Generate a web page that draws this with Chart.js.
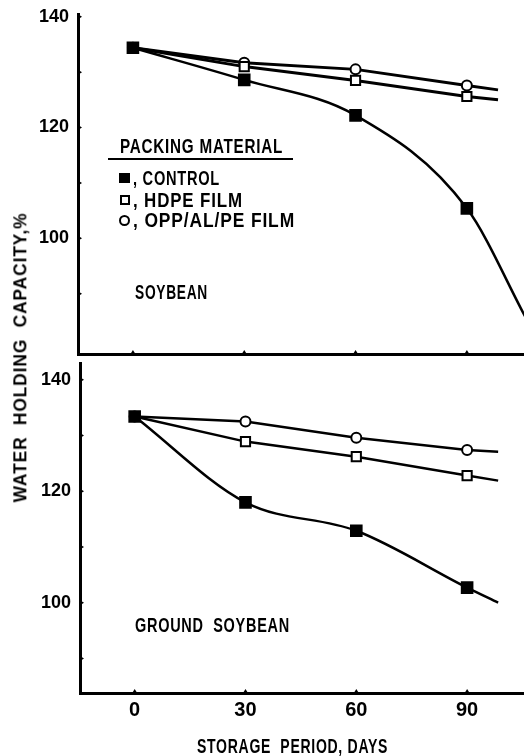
<!DOCTYPE html>
<html>
<head>
<meta charset="utf-8">
<script src="https://cdn.jsdelivr.net/npm/chart.js@4"></script>
<style>
  html, body { margin:0; padding:0; background:#fff; }
  body { width:524px; height:756px; position:relative; overflow:hidden;
         font-family:"Liberation Sans", Arial, sans-serif; font-weight:bold; color:#000; }
  canvas { position:absolute; left:0; }
  .t { position:absolute; white-space:pre; line-height:1; font-weight:bold; font-size:20px; letter-spacing:1px; transform-origin:0 0; }
  .sym { position:absolute; box-sizing:border-box; }
</style>
</head>
<body>
<canvas id="top" width="524" height="360" style="top:0"></canvas>
<canvas id="bot" width="524" height="400" style="top:356px"></canvas>

<div class="t fit" data-w="163" style="left:120px; top:136px;">PACKING MATERIAL</div>
<div style="position:absolute; left:108px; top:158px; width:185px; height:2px; background:#000;"></div>
<div class="sym" style="left:119px; top:173px; width:11px; height:10px; background:#000;"></div>
<div class="t fit" data-w="87" style="left:133px; top:168px;">, CONTROL</div>
<div class="sym" style="left:120px; top:195px; width:10px; height:10px; border:2px solid #000;"></div>
<div class="t fit" data-w="110" style="left:133px; top:190px;">, HDPE FILM</div>
<div class="sym" style="left:119px; top:215px; width:11px; height:11px; border:2px solid #000; border-radius:50%;"></div>
<div class="t fit" data-w="162" style="left:133px; top:210px;">, OPP/AL/PE FILM</div>
<div class="t fit" data-w="73" style="left:135px; top:282px;">SOYBEAN</div>
<div class="t fit" data-w="155" style="left:135px; top:615px;">GROUND  SOYBEAN</div>
<div class="t fit" data-w="191" style="left:197px; top:736px;">STORAGE  PERIOD, DAYS</div>
<div class="t" id="ytitle" data-w="290" style="left:0; top:0; font-size:19px;">WATER  HOLDING  CAPACITY,%</div>

<script>
// ---- data ----
const days = [0, 30, 60, 90];
const xTicks = [0, 30, 60, 90];
const xTickLabels = ["0", "30", "60", "90"];
const yTicksTop = [140, 130, 120, 110, 100, 90];
const yTicksBot = [140, 130, 120, 110, 100, 90];
const yLabels = [140, 120, 100];

// Soybean (top panel)
const soyControl = [134.4, 128.6, 122.2, 105.4];
const soyHDPE    = [134.4, 131.0, 128.5, 125.6];
const soyOPP     = [134.4, 131.7, 130.5, 127.6];
// line continuations past the last sample (day, value)
const soyControlEnd = [[106, 85.5]];
const soyHDPEEnd    = [[98.4, 125.0]];
const soyOPPEnd     = [[98.4, 126.8]];

// Ground soybean (bottom panel)
const gsControl = [133.4, 118.0, 112.9, 102.7];
const gsHDPE    = [133.4, 128.9, 126.2, 122.8];
const gsOPP     = [133.4, 132.5, 129.6, 127.4];
const gsControlEnd = [[98.4, 100.0]];
const gsHDPEEnd    = [[98.4, 121.9]];
const gsOPPEnd     = [[98.4, 127.1]];

const FONT = '"Liberation Sans", Arial, sans-serif';

// squeeze text to the reference widths (condensed look)
document.querySelectorAll('.fit').forEach(el => {
  const s = (+el.dataset.w) / el.scrollWidth;
  el.style.transform = 'scaleX(' + s + ')';
});
(function () {
  const el = document.getElementById('ytitle');
  const w = el.scrollWidth, h = el.offsetHeight, s = (+el.dataset.w) / w;
  const cx = 20, cy = 357;
  el.style.transformOrigin = '50% 50%';
  el.style.left = (cx - w / 2) + 'px';
  el.style.top = (cy - h / 2) + 'px';
  el.style.transform = 'rotate(-90deg) scaleX(' + s + ')';
})();

function series(vals, ends) {
  const pts = days.map((d, i) => ({x: d, y: vals[i]}));
  ends.forEach(e => pts.push({x: e[0], y: e[1]}));
  return pts;
}
function radii(n, extra, r) {
  return Array(n).fill(r).concat(Array(extra).fill(0));
}

function ds(label, vals, ends, style, r, fill, lw, smooth) {
  return {
    label, data: series(vals, ends),
    borderColor: '#000', borderWidth: lw,
    pointStyle: style, pointRadius: radii(vals.length, ends.length, r),
    pointHoverRadius: 0,
    pointBackgroundColor: fill, pointBorderColor: '#000', pointBorderWidth: 2,
    tension: smooth ? 0.4 : 0,
    cubicInterpolationMode: smooth ? 'monotone' : 'default',
    fill: false
  };
}

// inward tick marks drawn from the library's scales
const innerTicks = {
  id: 'innerTicks',
  afterDraw(chart) {
    const ctx = chart.ctx, a = chart.chartArea;
    ctx.save();
    ctx.fillStyle = '#000';
    chart.scales.y.ticks.forEach(t => {
      const p = chart.scales.y.getPixelForValue(t.value);
      ctx.beginPath(); ctx.moveTo(a.left, p - 2.5); ctx.lineTo(a.left + 4, p); ctx.lineTo(a.left, p + 2.5); ctx.fill();
    });
    chart.scales.x.ticks.forEach(t => {
      const p = chart.scales.x.getPixelForValue(t.value);
      ctx.beginPath(); ctx.moveTo(p - 2.5, a.bottom); ctx.lineTo(p, a.bottom - 4); ctx.lineTo(p + 2.5, a.bottom); ctx.fill();
    });
    ctx.restore();
  }
};

function make(id, cfg) {
  return new Chart(document.getElementById(id), {
    type: 'line',
    data: { datasets: cfg.datasets },
    options: {
      responsive: false, animation: false, devicePixelRatio: 1,
      events: [],
      layout: { autoPadding: false, padding: { top: cfg.padTop, left: 0, right: 0, bottom: 0 } },
      plugins: { legend: { display: false }, tooltip: { enabled: false } },
      scales: {
        x: {
          type: 'linear', min: -14.8, max: 105.4,
          afterBuildTicks: s => { s.ticks = xTicks.map(v => ({value: v})); },
          afterFit: s => { s.height = cfg.xH; s.paddingLeft = 0; s.paddingRight = 0; },
          border: { display: true, color: '#000', width: 3 },
          grid: { display: false },
          ticks: {
            display: cfg.xLabels, padding: cfg.xPad, color: '#000',
            font: { family: FONT, size: 20, weight: 'bold' },
            callback: (v) => { const i = xTicks.indexOf(v); return i >= 0 ? xTickLabels[i] : ''; }
          }
        },
        y: {
          type: 'linear', min: cfg.yMin, max: cfg.yMax,
          afterBuildTicks: s => { s.ticks = cfg.yTicks.map(v => ({value: v})); },
          afterFit: s => { s.width = cfg.yW; s.paddingTop = 0; s.paddingBottom = 0; },
          border: { display: true, color: '#000', width: 3 },
          grid: { display: false },
          ticks: {
            padding: 1, color: '#000',
            font: { family: FONT, size: 18, weight: 'bold' },
            callback: v => yLabels.includes(v) ? String(v) : ''
          }
        }
      }
    },
    plugins: [innerTicks]
  });
}

make('top', {
  padTop: 14, xH: 6, yW: 78, yMin: 79.1, yMax: 140.5, yTicks: yTicksTop, xLabels: false, xPad: 0,
  datasets: [
    ds('CONTROL', soyControl, soyControlEnd, 'rect', 7.5, '#000', 2.5, true),
    ds('HDPE FILM', soyHDPE, soyHDPEEnd, 'rect', 6.5, '#fff', 3, false),
    ds('OPP/AL/PE FILM', soyOPP, soyOPPEnd, 'circle', 5, '#fff', 3, false)
  ]
});

make('bot', {
  padTop: 7, xH: 63, yW: 80, yMin: 83.8, yMax: 143, yTicks: yTicksBot, xLabels: true, xPad: -3,
  datasets: [
    ds('CONTROL', gsControl, gsControlEnd, 'rect', 7.5, '#000', 2.5, true),
    ds('HDPE FILM', gsHDPE, gsHDPEEnd, 'rect', 6.5, '#fff', 2.5, false),
    ds('OPP/AL/PE FILM', gsOPP, gsOPPEnd, 'circle', 5, '#fff', 2.5, false)
  ]
});
</script>
</body>
</html>
